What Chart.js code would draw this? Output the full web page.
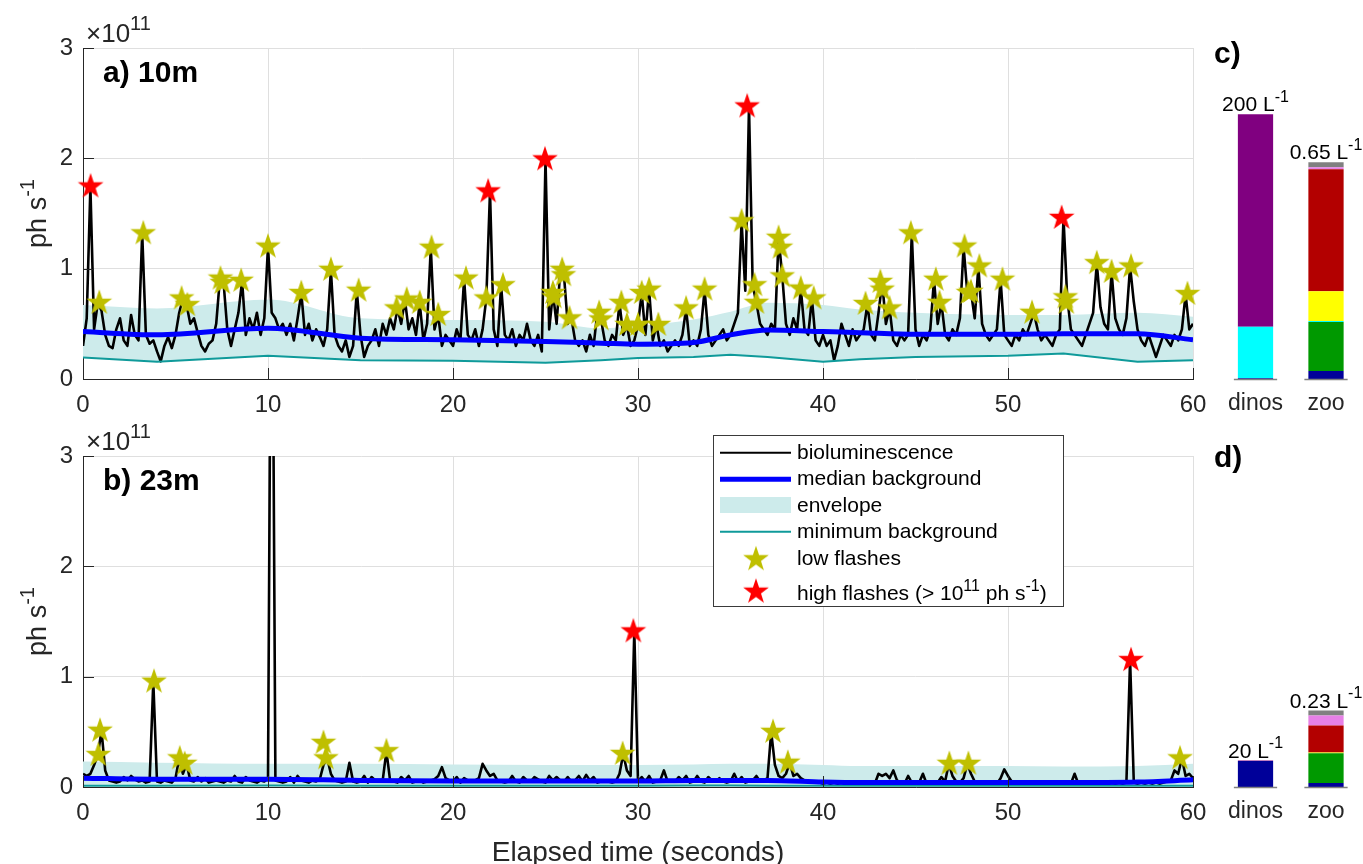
<!DOCTYPE html>
<html>
<head>
<meta charset="utf-8">
<script src="https://cdn.jsdelivr.net/npm/chart.js@4.4.0/dist/chart.umd.min.js"></script>
<style>
  body { margin: 0; background: #fff; width: 1363px; height: 864px; position: relative; overflow: hidden; }
  canvas { position: absolute; }
</style>
</head>
<body>
<canvas id="chartA" width="1220" height="420" style="left:0;top:0"></canvas>
<canvas id="chartB" width="1220" height="444" style="left:0;top:420px"></canvas>
<canvas id="chartC" width="163" height="420" style="left:1200px;top:0"></canvas>
<canvas id="chartD" width="163" height="444" style="left:1200px;top:420px"></canvas>
<script>
// ---- data (photon flux in units of 1e11 ph s^-1) ----
const sampleStep = 0.2; // seconds between trace samples

// a) 10 m  bioluminescence trace, one row per second
const traceA = [
  .30,.55,1.74,.45,.69, .62,.40,.30,.28,.45, .55,.35,.30,.58,.40, .35,1.32,.40,.32,.35,
  .25,.16,.30,.38,.28, .40,.60,.73,.67,.50, .55,.42,.30,.25,.32, .35,.50,.91,.87,.45,
  .30,.45,.60,.89,.40, .55,.45,.60,.40,.55, 1.20,.60,.55,.45,.50, .40,.50,.35,.55,.78,
  .40,.50,.35,.45,.38, .30,.45,.99,.40,.30, .25,.35,.20,.30,.80, .40,.20,.30,.35,.45,
  .30,.50,.40,.55,.45, .64,.50,.72,.45,.55, .40,.69,.35,.50,1.19, .45,.58,.30,.40,.35,
  .30,.45,.35,.91,.40, .35,.45,.30,.45,.73, 1.70,.45,.30,.85,.40, .35,.45,.30,.40,.35,
  .50,.35,.30,.40,.25, 1.99,.45,.78,.50,.99, .94,.50,.55,.35,.30, .35,.25,.40,.30,.60,
  .54,.35,.30,.40,.35, .69,.40,.49,.30,.35, .49,.78,.40,.81,.35, .49,.30,.35,.25,.30,
  .35,.30,.40,.64,.30, .35,.30,.45,.81,.40, .30,.35,.40,.45,.35, .40,.50,.60,1.43,.80,
  2.47,.85,.69,.50,.45, .40,.50,.45,1.28,.93, .50,.40,.55,.45,.82, .45,.40,.73,.35,.30,
  .40,.30,.35,.17,.30, .50,.40,.30,.45,.35, .40,.45,.68,.40,.35, .60,.88,.50,.64,.35,
  .30,.40,.35,.40,1.32, .45,.30,.40,.35,.45, .90,.50,.69,.40,.35, .45,.40,.55,1.20,.78,
  .79,.55,1.02,.50,.40, .35,.40,.45,.90,.40, .35,.30,.40,.35,.45, .40,.50,.60,.45,.35,
  .40,.35,.30,.40,.45, 1.46,.74,.45,.40,.35, .30,.40,.50,.60,1.05, .65,.50,.45,.97,.55,
  .45,.40,.55,1.02,.70, .45,.35,.30,.40,.30, .20,.30,.40,.35,.30, .40,.35,.45,.77,.45,
  .50
];

// b) 23 m  bioluminescence trace
const traceB = [
  .12,.10,.12,.20,.29, .51,.15,.06,.05,.04, .05,.09,.06,.10,.07, .05,.06,.04,.05,.955,
  .05,.04,.06,.05,.04, .08,.26,.12,.21,.06, .05,.09,.05,.08,.04, .05,.06,.05,.04,.06,
  .05,.10,.05,.04,.09, .06,.05,.04,.06,.05, .08,6.0,.06,.05,.04, .05,.09,.04,.10,.06,
  .05,.04,.06,.05,.07, .20,.26,.12,.06,.05, .04,.05,.22,.05,.04, .05,.10,.04,.09,.06,
  .05,.06,.325,.06,.05, .04,.09,.06,.10,.04, .05,.06,.04,.05,.06, .07,.10,.18,.08,.06,
  .05,.09,.04,.08,.06, .05,.06,.08,.21,.15, .10,.12,.06,.05,.04, .05,.10,.05,.04,.09,
  .06,.05,.09,.07,.05, .04,.10,.06,.09,.06, .05,.09,.05,.06,.10, .05,.11,.06,.09,.04,
  .05,.06,.05,.04,.05, .12,.30,.15,.10,1.41, .05,.09,.05,.10,.04, .05,.06,.15,.05,.06,
  .05,.09,.06,.10,.04, .05,.10,.05,.04,.09, .06,.05,.08,.05,.04, .05,.12,.05,.09,.04,
  .05,.06,.10,.05,.06, .08,.50,.20,.10,.08, .12,.22,.10,.12,.08, .06,.05,.04,.05,.04,
  .03,.04,.03,.04,.03, .04,.03,.04,.03,.04, .03,.04,.03,.04,.03, .12,.10,.12,.08,.15,
  .06,.04,.03,.10,.04, .03,.04,.12,.03,.04, .03,.04,.09,.05,.21, .10,.05,.04,.08,.21,
  .12,.05,.04,.03,.04, .03,.04,.03,.08,.16, .10,.05,.04,.03,.04, .03,.04,.03,.04,.03,
  .04,.03,.04,.03,.04, .03,.04,.03,.12,.03, .04,.03,.04,.03,.04, .03,.04,.03,.04,.03,
  .04,.03,.04,1.15,.04, .03,.04,.03,.04,.03, .04,.03,.04,.05,.06, .15,.12,.26,.10,.12,
  .08
];

// background statistics
const bgTimes  = [0, 4, 10, 15, 20, 25, 28, 30, 33, 35, 37, 40, 42, 45, 50, 53, 57, 60];
const medianA  = [.43,.40,.46,.37,.355,.34,.325,.315,.33,.40,.445,.43,.42,.405,.405,.41,.41,.355];
const upperA   = [.67,.64,.72,.55,.535,.52,.46,.48,.54,.61,.69,.67,.63,.60,.58,.58,.60,.565];
const minimumA = [.195,.157,.21,.17,.165,.148,.17,.19,.20,.22,.20,.157,.18,.20,.21,.23,.157,.17];
const medianB  = [.08,.07,.07,.06,.055,.055,.055,.055,.06,.06,.06,.045,.04,.04,.04,.04,.045,.065];
const upperB   = [.23,.22,.21,.21,.205,.20,.20,.20,.205,.21,.21,.20,.19,.19,.19,.185,.19,.21];
const minimumB = [.012,.012,.013,.012,.011,.011,.012,.012,.013,.013,.012,.011,.011,.012,.012,.011,.011,.012];

// detected flashes [time s, flux]
const lowFlashesA = [
  [0.88,.69],[3.26,1.32],[5.33,.73],[5.64,.67],[7.43,.91],[7.53,.87],[8.55,.89],[10.0,1.20],
  [11.8,.78],[13.4,.99],[14.9,.80],[16.95,.64],[17.5,.72],[18.2,.69],[18.84,1.19],[19.2,.58],
  [20.7,.91],[21.8,.73],[22.7,.85],[25.4,.78],[25.45,.74],[25.9,.99],[25.97,.94],[26.3,.55],
  [27.9,.60],[28.0,.54],[29.1,.69],[29.4,.49],[30.0,.49],[30.2,.78],[30.6,.81],[31.1,.49],
  [32.6,.64],[33.6,.81],[35.6,1.43],[36.3,.85],[36.4,.69],[37.6,1.28],[37.7,1.19],[37.8,.93],
  [38.8,.82],[39.5,.73],[42.3,.68],[43.1,.88],[43.2,.81],[43.6,.64],[44.75,1.32],[46.1,.90],
  [46.3,.69],[47.65,1.20],[47.86,.78],[48.0,.79],[48.45,1.02],[49.7,.90],[51.3,.60],[53.1,.74],
  [53.15,.69],[54.8,1.05],[55.6,.97],[56.65,1.02],[59.7,.77]
];
const highFlashesA = [[0.41,1.745],[21.9,1.70],[24.97,1.99],[35.9,2.47],[52.9,1.46]];
const lowFlashesB = [
  [0.83,.29],[0.92,.51],[3.84,.955],[5.23,.26],[5.5,.21],[13.0,.40],[13.13,.26],[16.4,.325],
  [29.17,.30],[37.3,.50],[38.1,.22],[46.83,.21],[47.86,.21],[59.3,.26]
];
const highFlashesB = [[29.75,1.41],[56.65,1.15]];

// c) / d) abundances (L^-1), stacked bottom to top
const barCats = ['dinos', 'zoo'];
const dinosC = [0.5, 39, 160.5];
const dinosD = [19.6, 0, 0.4];
const zooC = [0.024, 0.148, 0.003, 0.09, 0.369, 0.006, 0.015];
const zooD = [0.012, 0.09, 0.0, 0.002, 0.082, 0.03, 0.015];
const totalsC = ['200', '0.65'];
const totalsD = ['20', '0.23'];

const dinosColors = ['#000099', '#00ffff', '#800080'];
const zooColors = ['#000099', '#009900', '#00ffff', '#ffff00', '#b30000', '#e680e6', '#808080'];

// ---- helpers ----
const FONT = '"Liberation Sans", Arial, Helvetica, sans-serif';
const INK = '#262626';

function makeStar(color) {
  const R = 13.5, size = 30;
  const c = document.createElement('canvas');
  c.width = c.height = size;
  const g = c.getContext('2d');
  g.fillStyle = color;
  g.beginPath();
  for (let k = 0; k < 10; k++) {
    const r = k % 2 ? R * 0.39 : R;
    const a = -Math.PI / 2 + k * Math.PI / 5;
    g.lineTo(size / 2 + r * Math.cos(a), size / 2 + r * Math.sin(a));
  }
  g.closePath();
  g.fill();
  return c;
}
const yellowStar = makeStar('#bfbf00');
const redStar = makeStar('#ff0000');

// text with superscript pieces: parts = [[text, isSup], ...]
function drawRich(ctx, parts, x, y, size, align, bold) {
  const sup = Math.round(size * 0.75);
  const f = s => (bold ? 'bold ' : '') + s + 'px ' + FONT;
  let w = 0;
  parts.forEach(p => { ctx.font = f(p[1] ? sup : size); w += ctx.measureText(p[0]).width; });
  let cx = align === 'center' ? x - w / 2 : (align === 'right' ? x - w : x);
  ctx.textAlign = 'left';
  ctx.textBaseline = 'alphabetic';
  parts.forEach(p => {
    ctx.font = f(p[1] ? sup : size);
    ctx.fillText(p[0], cx, p[1] ? y - size * 0.45 : y);
    cx += ctx.measureText(p[0]).width;
  });
}

const toPts = arr => arr.map(p => ({ x: p[0], y: p[1] }));
const tracePts = vals => vals.map((v, i) => ({ x: Math.round(i * sampleStep * 10) / 10, y: v }));
const bgPts = vals => bgTimes.map((t, i) => ({ x: t, y: vals[i] }));

function drawLegend(ctx, oy) {
  ctx.fillStyle = '#fff';
  ctx.fillRect(713, 435 - oy, 351, 172);
  ctx.strokeStyle = '#3a3a3a';
  ctx.lineWidth = 1;
  ctx.strokeRect(713.5, 435.5 - oy, 350, 171);

  const line = (y, color, w) => {
    ctx.strokeStyle = color; ctx.lineWidth = w;
    ctx.beginPath(); ctx.moveTo(720, y - oy); ctx.lineTo(791, y - oy); ctx.stroke();
  };
  line(452.7, '#000', 2);
  line(479.3, '#0000ff', 5);
  ctx.fillStyle = '#cdebeb';
  ctx.fillRect(720, 497 - oy, 71, 16);
  line(531.7, '#0f9a9a', 2);
  ctx.drawImage(yellowStar, 756 - 15, 559.3 - oy - 15);
  ctx.drawImage(redStar, 756 - 15, 591.7 - oy - 15);

  ctx.fillStyle = '#000';
  drawRich(ctx, [['bioluminescence', 0]], 797, 458.5 - oy, 21, 'left');
  drawRich(ctx, [['median background', 0]], 797, 485 - oy, 21, 'left');
  drawRich(ctx, [['envelope', 0]], 797, 511.5 - oy, 21, 'left');
  drawRich(ctx, [['minimum background', 0]], 797, 538 - oy, 21, 'left');
  drawRich(ctx, [['low flashes', 0]], 797, 565 - oy, 21, 'left');
  drawRich(ctx, [['high flashes (> 10', 0], ['11', 1], [' ph s', 0], ['-1', 1], [')', 0]], 797, 600 - oy, 21, 'left');
}

const linePanelPlugin = {
  id: 'panelDecor',
  afterDraw(chart, args, opts) {
    const { ctx, chartArea: a } = chart;
    const x = chart.scales.x, y = chart.scales.y;
    ctx.save();
    // inward tick marks
    ctx.strokeStyle = INK;
    ctx.lineWidth = 1;
    ctx.beginPath();
    x.ticks.forEach(t => {
      const px = Math.round(x.getPixelForValue(t.value)) + 0.5;
      ctx.moveTo(px, a.bottom); ctx.lineTo(px, a.bottom - 11);
    });
    y.ticks.forEach(t => {
      const py = Math.round(y.getPixelForValue(t.value)) + 0.5;
      ctx.moveTo(a.left, py); ctx.lineTo(a.left + 11, py);
    });
    ctx.stroke();

    ctx.fillStyle = INK;
    drawRich(ctx, [['\u00d710', 0], ['11', 1]], a.left + 3, a.top - 6, 26, 'left');

    ctx.fillStyle = '#000';
    drawRich(ctx, [[opts.label, 0]], 103, a.top + 34, 30, 'left', true);

    ctx.save();
    ctx.translate(46, (a.top + a.bottom) / 2);
    ctx.rotate(-Math.PI / 2);
    ctx.fillStyle = INK;
    drawRich(ctx, [['ph s', 0], ['-1', 1]], 0, 0, 27, 'center');
    ctx.restore();

    if (opts.xTitle) {
      ctx.fillStyle = INK;
      drawRich(ctx, [[opts.xTitle, 0]], (a.left + a.right) / 2, chart.height - 3, 28, 'center');
    }
    if (opts.legend) drawLegend(ctx, chart.canvas.offsetTop);
    ctx.restore();
  }
};

function lineChart(id, trace, median, upper, minimum, lowF, highF, decor, padTop, axisH) {
  return new Chart(document.getElementById(id), {
    type: 'line',
    data: {
      datasets: [
        { label: 'high flashes', data: toPts(highF), showLine: false, pointStyle: redStar, pointRadius: 13, clip: false },
        { label: 'low flashes', data: toPts(lowF), showLine: false, pointStyle: yellowStar, pointRadius: 13, clip: false },
        { label: 'median background', data: bgPts(median), borderColor: '#0000ff', borderWidth: 5, cubicInterpolationMode: 'monotone' },
        { label: 'minimum background', data: bgPts(minimum), borderColor: '#0f9a9a', borderWidth: 2 },
        { label: 'bioluminescence', data: tracePts(trace), borderColor: '#000', borderWidth: 2.6, borderJoinStyle: 'round' },
        { label: 'envelope', data: bgPts(upper), borderWidth: 0, borderColor: 'rgba(0,0,0,0)', backgroundColor: '#cdebeb', fill: 3, cubicInterpolationMode: 'monotone' }
      ]
    },
    options: {
      responsive: false,
      animation: false,
      events: [],
      layout: { padding: { top: padTop, right: 27, left: 0, bottom: 0 } },
      elements: { point: { radius: 0 } },
      plugins: {
        legend: { display: false },
        tooltip: { enabled: false },
        panelDecor: decor
      },
      scales: {
        x: {
          type: 'linear', min: 0, max: 60,
          ticks: { stepSize: 10, autoSkip: false, maxRotation: 0, color: INK, padding: 12, font: { family: FONT, size: 24 } },
          grid: { color: '#dfdfdf', drawTicks: false },
          border: { color: INK, width: 1 },
          afterFit: s => { s.height = axisH; }
        },
        y: {
          min: 0, max: 3,
          ticks: { stepSize: 1, color: INK, padding: 10, font: { family: FONT, size: 24 } },
          grid: { color: '#dfdfdf', drawTicks: false },
          border: { color: INK, width: 1 },
          afterFit: s => { s.width = 83; }
        }
      }
    },
    plugins: [linePanelPlugin]
  });
}

const barPanelPlugin = {
  id: 'barDecor',
  afterDatasetsDraw(chart, args, opts) {
    const { ctx, chartArea: a } = chart;
    const x = chart.scales.x;
    ctx.save();
    barCats.forEach((cat, i) => {
      let top = a.bottom, width = 0;
      chart.data.datasets.forEach((ds, k) => {
        if (ds.data[i] === null) return;
        const el = chart.getDatasetMeta(k).data[i];
        top = Math.min(top, el.y);
        width = el.width;
      });
      const cx = x.getPixelForValue(i);
      ctx.strokeStyle = '#808080';
      ctx.lineWidth = 1.5;
      ctx.beginPath();
      ctx.moveTo(cx - width / 2 - 4, a.bottom + 0.5);
      ctx.lineTo(cx + width / 2 + 4, a.bottom + 0.5);
      ctx.stroke();
      ctx.fillStyle = '#000';
      drawRich(ctx, [[opts.totals[i] + ' L', 0], ['-1', 1]], cx, top - 3, 21, 'center');
    });
    ctx.fillStyle = '#000';
    drawRich(ctx, [[opts.label, 0]], 14, opts.labelY, 30, 'left', true);
    ctx.restore();
  }
};

function barChart(id, dinos, zoo, totals, label, labelY, padTop, axisH) {
  const sets = [];
  dinos.forEach((v, k) => sets.push({ data: [v, null], backgroundColor: dinosColors[k], yAxisID: 'yd' }));
  zoo.forEach((v, k) => sets.push({ data: [null, v], backgroundColor: zooColors[k], yAxisID: 'yz' }));
  return new Chart(document.getElementById(id), {
    type: 'bar',
    data: { labels: barCats, datasets: sets },
    options: {
      responsive: false,
      animation: false,
      events: [],
      categoryPercentage: 1,
      barPercentage: 0.5,
      borderWidth: 0,
      layout: { padding: { top: padTop, left: 20.25, right: 1.75, bottom: 0 } },
      plugins: {
        legend: { display: false },
        tooltip: { enabled: false },
        barDecor: { totals: totals, label: label, labelY: labelY }
      },
      scales: {
        x: {
          stacked: true,
          grid: { display: false },
          border: { display: false },
          ticks: { color: INK, padding: 3, font: { family: FONT, size: 23 } },
          afterFit: s => { s.height = axisH; }
        },
        yd: { stacked: true, display: false, min: 0, max: 250 },
        yz: { stacked: true, display: false, min: 0, max: 1.0 }
      }
    },
    plugins: [barPanelPlugin]
  });
}

lineChart('chartA', traceA, medianA, upperA, minimumA, lowFlashesA, highFlashesA,
  { label: 'a) 10m' }, 48, 41);
lineChart('chartB', traceB, medianB, upperB, minimumB, lowFlashesB, highFlashesB,
  { label: 'b) 23m', legend: true, xTitle: 'Elapsed time (seconds)' }, 36, 77);
barChart('chartC', dinosC, zooC, totalsC, 'c)', 63, 48, 41);
barChart('chartD', dinosD, zooD, totalsD, 'd)', 47, 36, 77);
</script>
</body>
</html>
